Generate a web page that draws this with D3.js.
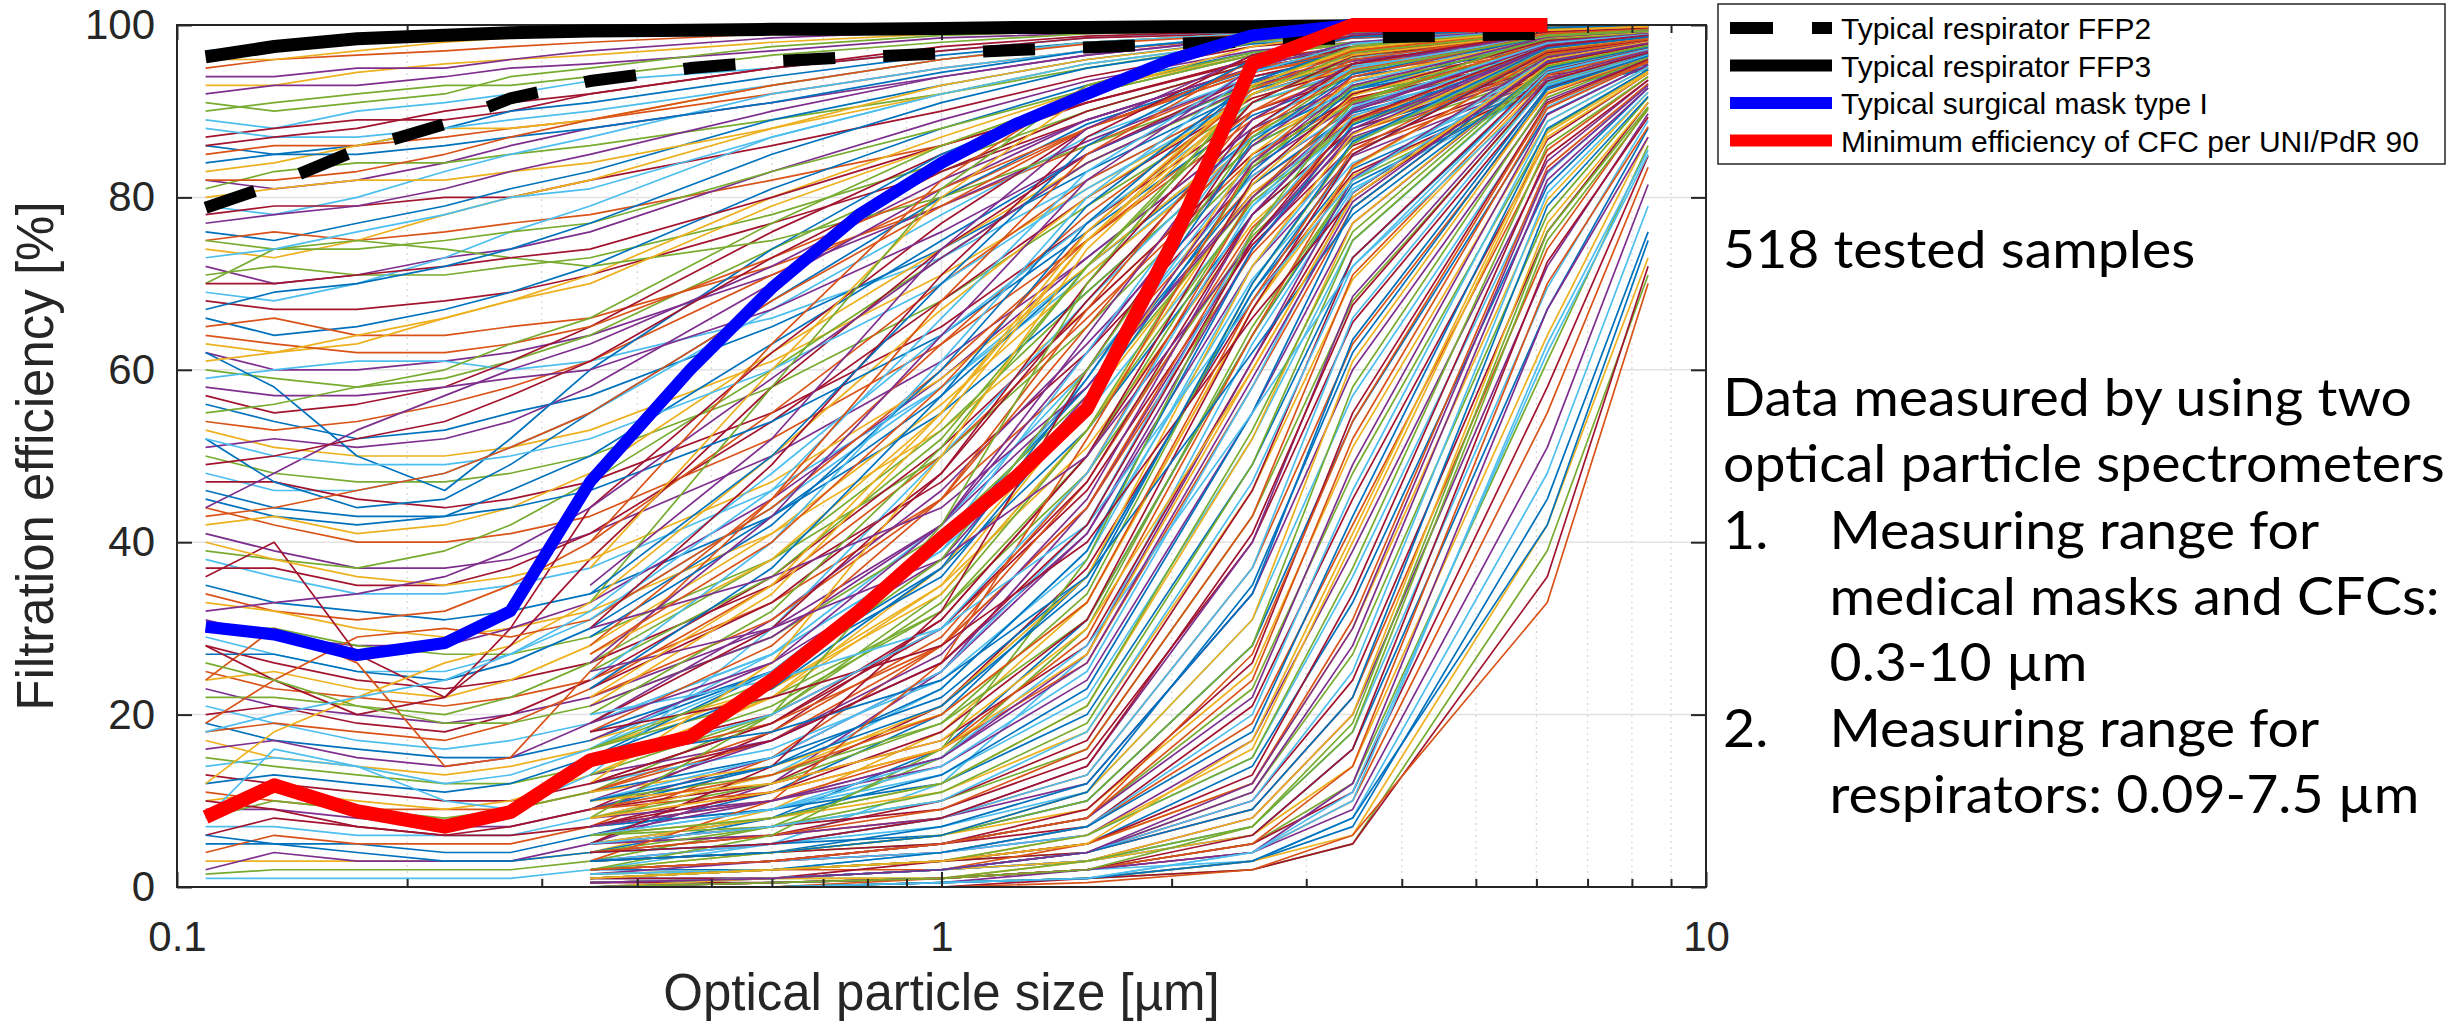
<!DOCTYPE html>
<html>
<head>
<meta charset="utf-8">
<script src="https://cdn.jsdelivr.net/npm/d3@7"></script>
<style>
  body { margin: 0; background: #fff; }
</style>
</head>
<body>
<div id="vis-container"></div>
<script>
// particle sizes [um] at which the thin sample curves are given
var sizesResp = [0.109, 0.134, 0.172, 0.224, 0.273, 0.347, 0.6, 1.0, 1.55, 2.55, 3.45, 6.2, 8.4];
var sizesMed = [0.347, 0.6, 1.0, 1.55, 2.55, 3.45, 6.2, 8.4];

// samples from the respirator spectrometer (start at ~0.11 um), efficiency [%]
var respSamples = [
  [97,97.5,98,98.5,99,99,99.5,99.7,99.8,100,100,100,100],
  [95,96,96.5,97,97.5,98,99,99.5,99.7,99.8,99.9,100,100],
  [93,93,94.5,95.5,96,96.5,98,99,99.4,99.6,99.8,99.9,100],
  [92,93,93,94,95,95.5,97,98.5,99,99.5,99.7,99.9,100],
  [90,91,92,93,93,94,96.5,98,99,99.4,99.6,99.8,99.9],
  [89,88,90,91,92,93.5,95,97,98.5,99.2,99.5,99.7,99.9],
  [87,88,89,89,90,92,95,97,98.5,99,99.4,99.7,99.8],
  [86,85,86,88,90,91,94,96.5,98,99,99.3,99.6,99.8],
  [85,86,86,87,88,89,92,95,97,98.5,99,99.5,99.7],
  [83,84,86,88,88,89,93,96,98,99,99.3,99.6,99.8],
  [82,81,82,84,86,88,91,94,96.5,98.5,99,99.4,99.6],
  [81,83,84,84,85,86,89,92,95,98,98.8,99.3,99.6],
  [79,78,80,83,85,87,92,95,97,98.8,99.2,99.5,99.7],
  [78,79,79,80,80,82,86,90,94,97.5,98.5,99.2,99.5],
  [76,75,77,79,81,83,89,93,96,98.3,98.8,99.3,99.5],
  [75,76,75,76,77,78,82,86,91,96,97.5,98.8,99.2],
  [74,73,75,78,80,82,88,93,96,98.2,98.8,99.2,99.4],
  [72,70,71,73,74,76,83,89,93.5,97,98,98.8,99.2],
  [71,72,71,71,72,73,78,84,90,95.5,97.3,98.6,99],
  [69,68,70,73,76,79,87,92,95.5,98,98.7,99.2,99.4],
  [68,67,67,68,69,71,77,83,89,95,97,98.5,99],
  [66,64,65,67,69,72,81,88,93,96.8,97.8,98.7,99],
  [65,66,64,64,65,66,72,79,86,94,96.5,98.3,98.8],
  [63,62,63,66,68,71,80,87,92.5,96.5,97.8,98.6,99],
  [62,60,60,61,62,64,71,79,86.5,94,96.3,98.2,98.7],
  [60,59,58,59,61,64,74,83,90,95.5,97,98.4,98.9],
  [59,60,61,61,60,61,66,73,82,92,95.5,98,98.6],
  [57,55,56,58,61,65,76,85,91,96,97.3,98.5,98.9],
  [56,54,52,53,55,57,65,74,83,92.5,95.5,97.8,98.4],
  [54,53,54,56,58,61,71,80,88,94.5,96.5,98.2,98.7],
  [53,51,50,50,51,53,61,71,81,91.5,95,97.6,98.3],
  [51,52,51,52,54,58,70,81,89,95,96.8,98.3,98.7],
  [50,48,47,47,48,50,58,68,79,91,94.5,97.4,98.2],
  [48,46,46,48,51,55,67,78,87,94,96.3,98,98.6],
  [47,47,45,44,45,47,55,65,77,90,94,97.2,98],
  [45,43,42,43,46,50,63,75,85,93.3,96,97.9,98.5],
  [44,42,40,40,41,43,52,63,75,89,93.5,97,97.8],
  [42,43,41,42,44,48,62,74,84,93,95.8,97.8,98.4],
  [41,39,37,37,38,41,50,61,73,88,93,96.8,97.7],
  [39,38,37,39,42,47,60,73,84,92.8,95.5,97.7,98.3],
  [38,36,34,34,35,37,46,58,71,87,92.5,96.6,97.5],
  [37,37,35,35,37,41,54,68,80,91.5,95,97.5,98.2],
  [35,33,32,31,32,34,43,55,69,86,92,96.4,97.4],
  [34,32,31,32,35,40,55,70,82,92,95.2,97.6,98.2],
  [33,32,30,29,30,32,41,53,67,85,91.5,96.2,97.2],
  [31,29,28,28,30,33,45,59,73,88,93,96.8,97.7],
  [30,30,28,27,27,29,38,50,65,84,91,96,97],
  [29,27,25,25,27,31,44,58,72,87.5,92.8,96.7,97.6],
  [28,26,24,23,24,26,35,47,62,82.5,90.2,95.8,96.8],
  [27,27,25,24,26,30,43,57,72,87,92.5,96.6,97.5],
  [25,23,22,21,22,24,33,45,60,81.5,89.5,95.5,96.7],
  [24,25,23,22,24,28,41,56,71,86.5,92.2,96.5,97.4],
  [23,21,20,19,20,22,30,42,58,80.5,89,95.3,96.5],
  [22,22,21,20,22,26,38,53,69,86,92,96.4,97.3],
  [21,19,17,16,17,19,27,39,55,79,88.5,95,96.3],
  [20,21,19,18,20,24,36,51,67,85,91.5,96.2,97.2],
  [19,17,16,15,15,17,25,37,53,78,88,94.8,96.2],
  [18,19,18,17,19,23,35,50,66,84.5,91.3,96.1,97.1],
  [17,15,14,13,14,16,23,35,51,77,87.5,94.6,96],
  [16,17,15,14,15,19,31,46,63,83.5,90.8,96,97],
  [15,14,13,12,12,14,21,32,48,75.5,86.8,94.4,95.8],
  [14,15,14,12,13,16,27,42,60,82.5,90.3,95.8,96.9],
  [13,12,11,10,10,12,19,30,46,74.5,86,94.2,95.7],
  [12,13,12,11,12,15,25,40,58,81.5,89.8,95.6,96.8],
  [11,10,9,9,9,11,17,28,44,73.5,85.5,94,95.5],
  [10,11,10,9,10,13,22,37,56,80.5,89.2,95.5,96.7],
  [9,9,8,7,7,9,15,25,41,72,84.8,93.8,95.4],
  [8,10,9,8,9,11,20,34,53,79.5,88.6,95.3,96.6],
  [7,7,6,6,6,8,13,23,39,70.5,84,93.6,95.2],
  [6,8,7,6,7,9,18,31,50,78,88,95.2,96.5],
  [5,5,5,4,4,6,11,20,36,69,83.3,93.4,95.1],
  [4,6,5,5,5,7,15,28,47,76.5,87.5,95,96.4],
  [3,3,3,3,3,4,9,18,33,67,82.5,93.2,95],
  [2,4,3,3,3,5,12,25,44,75,87,94.8,96.3],
  [1.5,2,2,2,2,3,7,15,30,65,82,93,94.9],
  [1,1,1,1,1,2,5,12,27,63,81,92.8,94.8],
  [36,40,27,22,30,44,62,77,88,95,97,98.5,99],
  [62,58,50,46,52,60,74,85,92,96.5,97.8,98.8,99.2],
  [24,30,26,14,15,25,45,63,78,92,95.5,97.8,98.5],
  [12,18,22,26,28,33,50,67,80,92,95,97.8,98.4],
  [44,48,53,57,60,63,72,82,89,95,97,98.5,99],
  [70,74,75,74,73,72,75,80,86,93,96,98,98.7],
  [8,16,14,10,9,13,30,50,68,87,93,96.8,97.6],
  [28,24,20,22,28,38,58,74,85,94,96.5,98.2,98.7],
  [52,47,44,45,49,55,68,80,88.5,94.8,96.8,98.3,98.8],
  [19,24,29,30,29,31,44,60,75,90,94.5,97.5,98.3],
  [96,96,97,98,98.5,99,99.5,99.8,100,100,100,100,100],
  [94,94,95,95,96,97,98.5,99.3,99.6,99.8,99.9,100,100],
  [91,90,91,92,94,95,97.5,98.8,99.3,99.6,99.8,99.9,100],
  [88,87,87,88,89,90,93,96,98,99,99.4,99.7,99.8],
  [86,87,88,90,91,92,95,97.5,98.7,99.3,99.6,99.8,99.9],
  [84,85,85,86,87,88,91,94.5,97,98.7,99.2,99.5,99.7],
  [82,82,83,85,87,89,93,96,97.8,98.9,99.3,99.6,99.8],
  [80,81,82,82,83,84,88,92,95.5,98,98.8,99.3,99.5],
  [77,78,79,81,83,85,90,94,96.5,98.5,99,99.4,99.6],
  [75,74,74,75,76,77,83,88,92.5,96.8,98,98.9,99.3],
  [73,74,76,78,80,81,87,92,95.5,98,98.7,99.2,99.5],
  [70,70,71,72,73,74,80,86,91,95.8,97.5,98.7,99.1],
  [67,69,70,72,74,77,85,91,95,97.8,98.5,99.1,99.4],
  [64,63,62,62,63,65,73,81,88,95,97,98.5,99],
  [61,62,64,66,68,70,79,86,92,96.5,97.8,98.7,99.1],
  [58,57,57,58,59,60,67,76,85,93.5,96,98,98.6],
  [55,56,58,60,63,66,77,86,92,96.5,97.8,98.6,99],
  [52,50,49,49,50,52,60,70,81,92,95.3,97.7,98.4],
  [49,50,52,54,57,61,73,83,90,95.5,97.2,98.4,98.8],
  [46,44,43,43,44,46,54,64,76,89.5,94,97.3,98.1],
  [43,44,46,48,51,55,68,79,88,94.5,96.8,98.3,98.7],
  [40,38,36,35,36,38,47,59,72,87.5,93,96.8,97.8],
  [32,33,34,36,39,44,59,73,84,93,95.8,97.8,98.4],
  [26,24,21,19,19,21,29,41,57,80,88.8,95.2,96.6],
  [18,20,22,24,27,32,48,64,77,91,94.8,97.6,98.3],
  [10,9,7,6,6,7,12,21,37,68,82.8,93.2,95],
  [6,5,4,3,3,4,8,16,31,64,81.5,92.9,94.8]
];

// samples from the medical-mask / CFC spectrometer (start at ~0.35 um), efficiency [%]
var medSamples = [
  [40,63,82,93,98,99.5,100,100],
  [37,60,80,92,97.5,99.2,99.8,100],
  [35,52,74,88,96.5,98.8,99.7,100],
  [33,58,81,93,98,99.3,99.8,100],
  [31,46,66,83,95,98,99.6,99.9],
  [30,49,71,87,96.5,98.7,99.7,99.9],
  [29,42,60,79,93.5,97.3,99.5,99.8],
  [28,45,68,85,96,98.5,99.6,99.9],
  [27,38,55,75,92,96.8,99.4,99.8],
  [26,43,64,82,95,98,99.6,99.9],
  [25,36,52,72,91,96.3,99.3,99.7],
  [24,40,61,80,94.5,97.8,99.5,99.8],
  [23,33,48,68,89,95.5,99.1,99.6],
  [23,37,57,77,93.5,97.4,99.4,99.8],
  [22,31,45,65,87.5,94.8,99,99.5],
  [21,34,54,75,93,97.2,99.3,99.7],
  [21,29,42,62,86,94,98.8,99.4],
  [20,32,51,72,92,96.8,99.2,99.7],
  [19,27,39,59,84.5,93.3,98.6,99.3],
  [19,30,48,70,91,96.4,99.1,99.6],
  [18,25,36,56,83,92.5,98.4,99.2],
  [18,28,45,67,90,96,99,99.5],
  [17,23,34,53,81.5,91.8,98.2,99.1],
  [17,26,42,64,89,95.5,98.9,99.4],
  [16,22,32,50,80,91,98,99],
  [16,25,40,62,88,95,98.8,99.3],
  [15,20,30,47,78,90,97.8,98.9],
  [15,23,37,59,86.5,94.3,98.6,99.2],
  [14,19,28,44,76,88.8,97.6,98.8],
  [14,22,35,56,85,93.6,98.5,99.1],
  [13,17,26,41,74,87.5,97.4,98.7],
  [13,20,33,53,83.5,92.8,98.3,99],
  [12,16,24,38,72,86.3,97.2,98.6],
  [12,19,31,50,82,92,98.2,98.9],
  [11,15,22,36,69,85,97,98.5],
  [11,18,29,48,80,91.2,98,98.8],
  [11,14,20,33,67,83.5,96.7,98.3],
  [10,17,27,45,78,90.3,97.8,98.7],
  [10,13,19,31,64,82,96.4,98.2],
  [10,15,25,42,76,89.4,97.6,98.6],
  [9,12,17,28,61,80.5,96,98],
  [9,14,23,39,74,88.4,97.4,98.5],
  [9,11,16,26,58,78.8,95.6,97.8],
  [8,13,21,36,72,87.3,97.2,98.4],
  [8,10,14,24,55,77,95.2,97.6],
  [8,12,19,34,70,86.2,97,98.3],
  [7,9,13,22,52,75,94.8,97.4],
  [7,11,18,31,67,85,96.8,98.2],
  [7,9,12,20,49,73,94.3,97.2],
  [7,10,16,29,64,83.7,96.6,98.1],
  [6,8,11,18,46,70.5,93.8,97],
  [6,10,15,27,61,82.2,96.3,98],
  [6,7,10,16,43,68,93.2,96.8],
  [6,9,14,25,58,80.6,96,97.9],
  [5,7,9,15,40,65.5,92.6,96.5],
  [5,8,13,23,55,78.8,95.7,97.8],
  [5,6,8,13,37,63,92,96.2],
  [5,8,12,21,52,77,95.4,97.6],
  [5,6,8,12,34,60,91.3,96],
  [4,7,11,19,49,75,95,97.5],
  [4,5,7,11,31,57,90.5,95.7],
  [4,6,10,17,46,73,94.6,97.3],
  [4,5,6,10,28,54,89.7,95.4],
  [4,6,9,16,43,71,94.2,97.1],
  [3,4,6,9,25,51,88.8,95.1],
  [3,5,8,14,40,68.5,93.8,97],
  [3,4,5,8,23,48,87.8,94.8],
  [3,5,8,13,37,66,93.3,96.8],
  [3,4,5,7,21,45,86.7,94.4],
  [3,4,7,12,34,63.5,92.8,96.6],
  [2,3,4,7,19,42,85.5,94],
  [2,4,6,11,31,61,92.2,96.4],
  [2,3,4,6,17,39,84.2,93.6],
  [2,4,6,10,28,58,91.6,96.2],
  [2,3,4,6,15,36,82.8,93.2],
  [2,3,5,9,26,55,91,96],
  [2,2,3,5,14,33,81.3,92.7],
  [2,3,5,8,24,52,90.3,95.7],
  [1.5,2,3,5,12,30,79.7,92.2],
  [1.5,3,5,8,22,49,89.6,95.4],
  [1.5,2,3,4,11,27,78,91.6],
  [1.5,2,4,7,20,46,88.8,95.1],
  [1,2,3,4,10,24,76,91],
  [1,2,4,7,18,43,88,94.8],
  [1,2,2,4,9,22,74,90.4],
  [1,2,3,6,16,40,87,94.4],
  [1,1,2,3,8,20,72,89.7],
  [1,2,3,6,15,37,86,94],
  [1,1,2,3,7,18,69.5,88.9],
  [1,1,3,5,13,34,84.8,93.6],
  [0.5,1,2,3,6,16,67,88],
  [0.5,1,2,5,12,31,83.5,93.2],
  [0.5,1,2,3,6,14,64,87],
  [0.5,1,2,4,11,28,82,92.7],
  [0.5,1,1,2,5,12,61,86],
  [0.5,1,2,4,10,25,80.5,92.2],
  [0.5,0.5,1,2,5,11,58,84.8],
  [0,1,2,4,9,22,79,91.7],
  [0,0.5,1,2,4,10,55,83.5],
  [0,1,1,3,8,20,77,91],
  [0,0.5,1,2,4,9,51,81.5],
  [0,0.5,1,3,7,18,75,90.2],
  [0,0.5,1,2,3,8,48,79],
  [0,0.5,1,2,6,16,72.5,89.3],
  [0,0,0.5,1,3,7,45,76],
  [0,0,1,2,5,14,70,88.2],
  [0,0,0.5,1,3,6,42,73],
  [0,0,0.5,2,4,12,67,87],
  [0,0,0.5,1,2,5,39,71],
  [0,0,0.5,1,4,10,63,85.5],
  [0,0,0,1,2,5,36,72],
  [0,0,0.5,1,3,8,42,75],
  [0,0,0,0.5,2,6,33,70],
  [12,26,50,74,92,96.5,99,99.5],
  [30,36,44,58,80,90,98,99],
  [8,20,42,70,93,97.5,99.5,99.8],
  [20,24,30,42,68,82,96,98],
  [5,14,32,60,88,95.5,99.2,99.6],
  [15,18,24,36,62,78,95,97.5],
  [3,10,26,52,84,94,99,99.5],
  [10,12,17,30,60,80,96,98],
  [25,30,38,50,75,88,97.5,98.8],
  [2,6,16,38,76,91,98.8,99.4],
  [6,9,15,28,55,72,93,96.5],
  [18,22,28,40,66,80,95.5,97.8],
  [34,50,70,86,96,98.6,99.7,100],
  [27,40,58,76,92.5,97,99.4,99.8],
  [22,35,55,76,93,97.3,99.4,99.8],
  [19,26,38,57,84,93,98.6,99.3],
  [16,24,38,60,87,94.6,98.7,99.3],
  [14,20,30,48,79,90.5,97.9,98.9],
  [12,17,26,42,75,89,97.6,98.8],
  [10,14,21,35,70,86.5,97.3,98.6],
  [9,13,20,33,68,85.5,97,98.4],
  [8,11,16,27,60,80,96,98],
  [7,10,15,26,59,79.5,95.8,97.9],
  [6,8,12,21,53,76,95.2,97.6],
  [5,7,10,18,47,72,94.5,97.2],
  [4,5,8,14,41,67.5,93.5,96.8],
  [3,4,6,11,35,62,92.5,96.4],
  [2,3,5,8,27,54,90.8,95.8],
  [1,2,3,5,17,41,87.5,94.6],
  [0.5,1,2,4,12,30,83,93],
  [0,0.5,1,2,7,19,76,90.5],
  [0,0,0.5,1,4,11,62,85]
];

// reference curves
var sizesRef = [0.109, 0.134, 0.172, 0.224, 0.273, 0.347, 0.469, 0.6, 0.78, 1.0, 1.25, 1.55, 2.0, 2.55, 3.45, 6.2];
var ffp2 = [78.8, 81.5, 85.5, 88.5, 91.5, 93.5, 95, 95.8, 96.3, 96.7, 97.1, 97.4, 97.8, 98.1, 98.5, 99];
var ffp3 = [96.3, 97.5, 98.4, 98.8, 99.1, 99.3, 99.4, 99.5, 99.5, 99.6, 99.7, 99.7, 99.8, 99.8, 99.9, 100];
var surgical = [30.2, 29.3, 26.9, 28.3, 32, 47, 60, 69.5, 78, 84, 88.5, 92, 96, 98.8, 100];
var cfcMin = [8.1, 11.8, 8.8, 7.0, 8.7, 14.7, 17.4, 24, 32, 40.5, 47.5, 55.5, 74.5, 95.5, 100, 100];

var legendLabels = ["Typical respirator FFP2", "Typical respirator FFP3", "Typical surgical mask type I", "Minimum efficiency of CFC per UNI/PdR 90"];
var yTicks = [0, 20, 40, 60, 80, 100];
var xTicks = [0.1, 1, 10];
var xMinor = [0.2, 0.3, 0.4, 0.5, 0.6, 0.7, 0.8, 0.9, 2, 3, 4, 5, 6, 7, 8, 9];
var noteLines = ["518 tested samples", "", "Data measured by using two", "optical particle spectrometers"];
var noteList = [["1.", "Measuring range for"], ["", "medical masks and CFCs:"], ["", "0.3-10 µm"],
                ["2.", "Measuring range for"], ["", "respirators: 0.09-7.5 µm"]];

var matlabColors = ["#0072BD", "#D95319", "#EDB120", "#7E2F8E", "#77AC30", "#4DBEEE", "#A2142F"];
var axisColor = "#262626";
var font = "'Liberation Sans', Arial, Helvetica, sans-serif";

var plot = { left: 177, right: 1706, top: 25, bottom: 887 };

var svg = d3.select("#vis-container")
  .append("svg")
  .attr("width", 2461)
  .attr("height", 1026)
  .style("background", "#fff");

var x = d3.scaleLog().domain([0.1, 10]).range([plot.left, plot.right]);
var y = d3.scaleLinear().domain([0, 100]).range([plot.bottom, plot.top]);

// grid
var grid = svg.append("g");
grid.selectAll(".hgrid").data(yTicks.slice(1, -1)).enter().append("line")
  .attr("x1", plot.left).attr("x2", plot.right)
  .attr("y1", function (d) { return y(d); }).attr("y2", function (d) { return y(d); })
  .attr("stroke", "#e2e2e2").attr("stroke-width", 1.5);
grid.selectAll(".vgrid").data([1]).enter().append("line")
  .attr("x1", function (d) { return x(d); }).attr("x2", function (d) { return x(d); })
  .attr("y1", plot.top).attr("y2", plot.bottom)
  .attr("stroke", "#e2e2e2").attr("stroke-width", 1.5);
grid.selectAll(".mgrid").data(xMinor).enter().append("line")
  .attr("x1", function (d) { return x(d); }).attr("x2", function (d) { return x(d); })
  .attr("y1", plot.top).attr("y2", plot.bottom)
  .attr("stroke", "#d6d6d6").attr("stroke-width", 1.2)
  .attr("stroke-dasharray", "2,4");

// thin sample curves
var line = d3.line()
  .x(function (d) { return x(d[0]); })
  .y(function (d) { return y(d[1]); });

var samples = [];
respSamples.forEach(function (v) { samples.push(v.map(function (e, i) { return [sizesResp[i], e]; })); });
medSamples.forEach(function (v) { samples.push(v.map(function (e, i) { return [sizesMed[i], e]; })); });

svg.append("g").selectAll("path").data(samples).enter().append("path")
  .attr("fill", "none")
  .attr("stroke", function (d, i) { return matlabColors[i % 7]; })
  .attr("stroke-width", 1.7)
  .attr("stroke-linejoin", "round")
  .attr("d", line);

// axes (ticks pointing inward, box on)
function styleAxis(g) {
  g.select(".domain").remove();
  g.selectAll(".tick line").attr("stroke", axisColor).attr("stroke-width", 2);
  g.selectAll(".tick text").attr("fill", axisColor).style("font-family", font).style("font-size", "42px");
}
svg.append("g").attr("transform", "translate(0," + plot.bottom + ")")
  .call(d3.axisBottom(x).tickValues(xTicks).tickSize(-15).tickPadding(34).tickFormat(function (d) { return String(d); }))
  .call(styleAxis);
svg.append("g").attr("transform", "translate(0," + plot.bottom + ")")
  .call(d3.axisBottom(x).tickValues(xMinor).tickSize(-8).tickFormat(""))
  .call(styleAxis);
svg.append("g").attr("transform", "translate(0," + plot.top + ")")
  .call(d3.axisTop(x).tickValues(xTicks).tickSize(-15).tickFormat(""))
  .call(styleAxis);
svg.append("g").attr("transform", "translate(0," + plot.top + ")")
  .call(d3.axisTop(x).tickValues(xMinor).tickSize(-8).tickFormat(""))
  .call(styleAxis);
svg.append("g").attr("transform", "translate(" + plot.left + ",0)")
  .call(d3.axisLeft(y).tickValues(yTicks).tickSize(-15).tickPadding(22))
  .call(styleAxis);
svg.append("g").attr("transform", "translate(" + plot.right + ",0)")
  .call(d3.axisRight(y).tickValues(yTicks).tickSize(-15).tickFormat(""))
  .call(styleAxis);

svg.append("rect")
  .attr("x", plot.left).attr("y", plot.top)
  .attr("width", plot.right - plot.left).attr("height", plot.bottom - plot.top)
  .attr("fill", "none").attr("stroke", axisColor).attr("stroke-width", 2);

// reference curves on top
function refLine(vals) {
  return vals.map(function (e, i) { return [sizesRef[i], e]; });
}
var thick = [
  { vals: ffp3, color: "#000", width: 13, dash: null },
  { vals: ffp2, color: "#000", width: 12, dash: "52,48" },
  { vals: surgical, color: "#0000ff", width: 12, dash: null },
  { vals: cfcMin, color: "#ff0000", width: 14, dash: null }
];
thick.forEach(function (t) {
  svg.append("path")
    .datum(refLine(t.vals))
    .attr("fill", "none")
    .attr("stroke", t.color)
    .attr("stroke-width", t.width)
    .attr("stroke-linejoin", "round")
    .attr("stroke-dasharray", t.dash)
    .attr("d", line);
});

// axis labels
svg.append("text")
  .attr("x", (plot.left + plot.right) / 2)
  .attr("y", 1010)
  .style("text-anchor", "middle")
  .style("font-family", font)
  .style("font-size", "51px")
  .attr("fill", axisColor)
  .text("Optical particle size [µm]");

svg.append("text")
  .attr("transform", "rotate(-90)")
  .attr("x", -(plot.top + plot.bottom) / 2)
  .attr("y", 53)
  .style("text-anchor", "middle")
  .style("font-family", font)
  .style("font-size", "51px")
  .attr("fill", axisColor)
  .text("Filtration efficiency [%]");

// legend
var legend = svg.append("g");
legend.append("rect")
  .attr("x", 1718).attr("y", 4).attr("width", 727).attr("height", 160)
  .attr("fill", "#fff").attr("stroke", axisColor).attr("stroke-width", 1.5);
var legendStyle = [
  { color: "#000", dash: "43,39" },
  { color: "#000", dash: null },
  { color: "#0000ff", dash: null },
  { color: "#ff0000", dash: null }
];
legendLabels.forEach(function (lab, i) {
  var cy = 28 + i * 37.5;
  legend.append("line")
    .attr("x1", 1730).attr("x2", 1832).attr("y1", cy).attr("y2", cy)
    .attr("stroke", legendStyle[i].color).attr("stroke-width", 12)
    .attr("stroke-dasharray", legendStyle[i].dash);
  legend.append("text")
    .attr("x", 1841).attr("y", cy + 11)
    .style("font-family", font).style("font-size", "30px")
    .attr("fill", "#000")
    .text(lab);
});

// note text on the right
var note = svg.append("g");
var noteFont = "Lato, 'Open Sans', sans-serif";
noteLines.forEach(function (t, i) {
  var yy = i < 2 ? 268 + i * 66 : 416 + (i - 2) * 66;
  note.append("text").attr("class", "note").attr("x", 0).attr("y", yy)
    .style("font-family", noteFont).style("font-size", "52px").text(t);
});
noteList.forEach(function (row, i) {
  var yy = 549 + i * 66;
  note.append("text").attr("class", "note").attr("x", 0).attr("y", yy)
    .style("font-family", noteFont).style("font-size", "52px").text(row[0]);
  note.append("text").attr("class", "note").attr("x", 100).attr("y", yy)
    .style("font-family", noteFont).style("font-size", "52px").text(row[1]);
});
var widest = note.selectAll("text").filter(function () { return d3.select(this).text() === "optical particle spectrometers"; }).node();
var sx = 722 / widest.getComputedTextLength();
note.attr("transform", "translate(1723,0) scale(" + sx + ",1)");
</script>
</body>
</html>
